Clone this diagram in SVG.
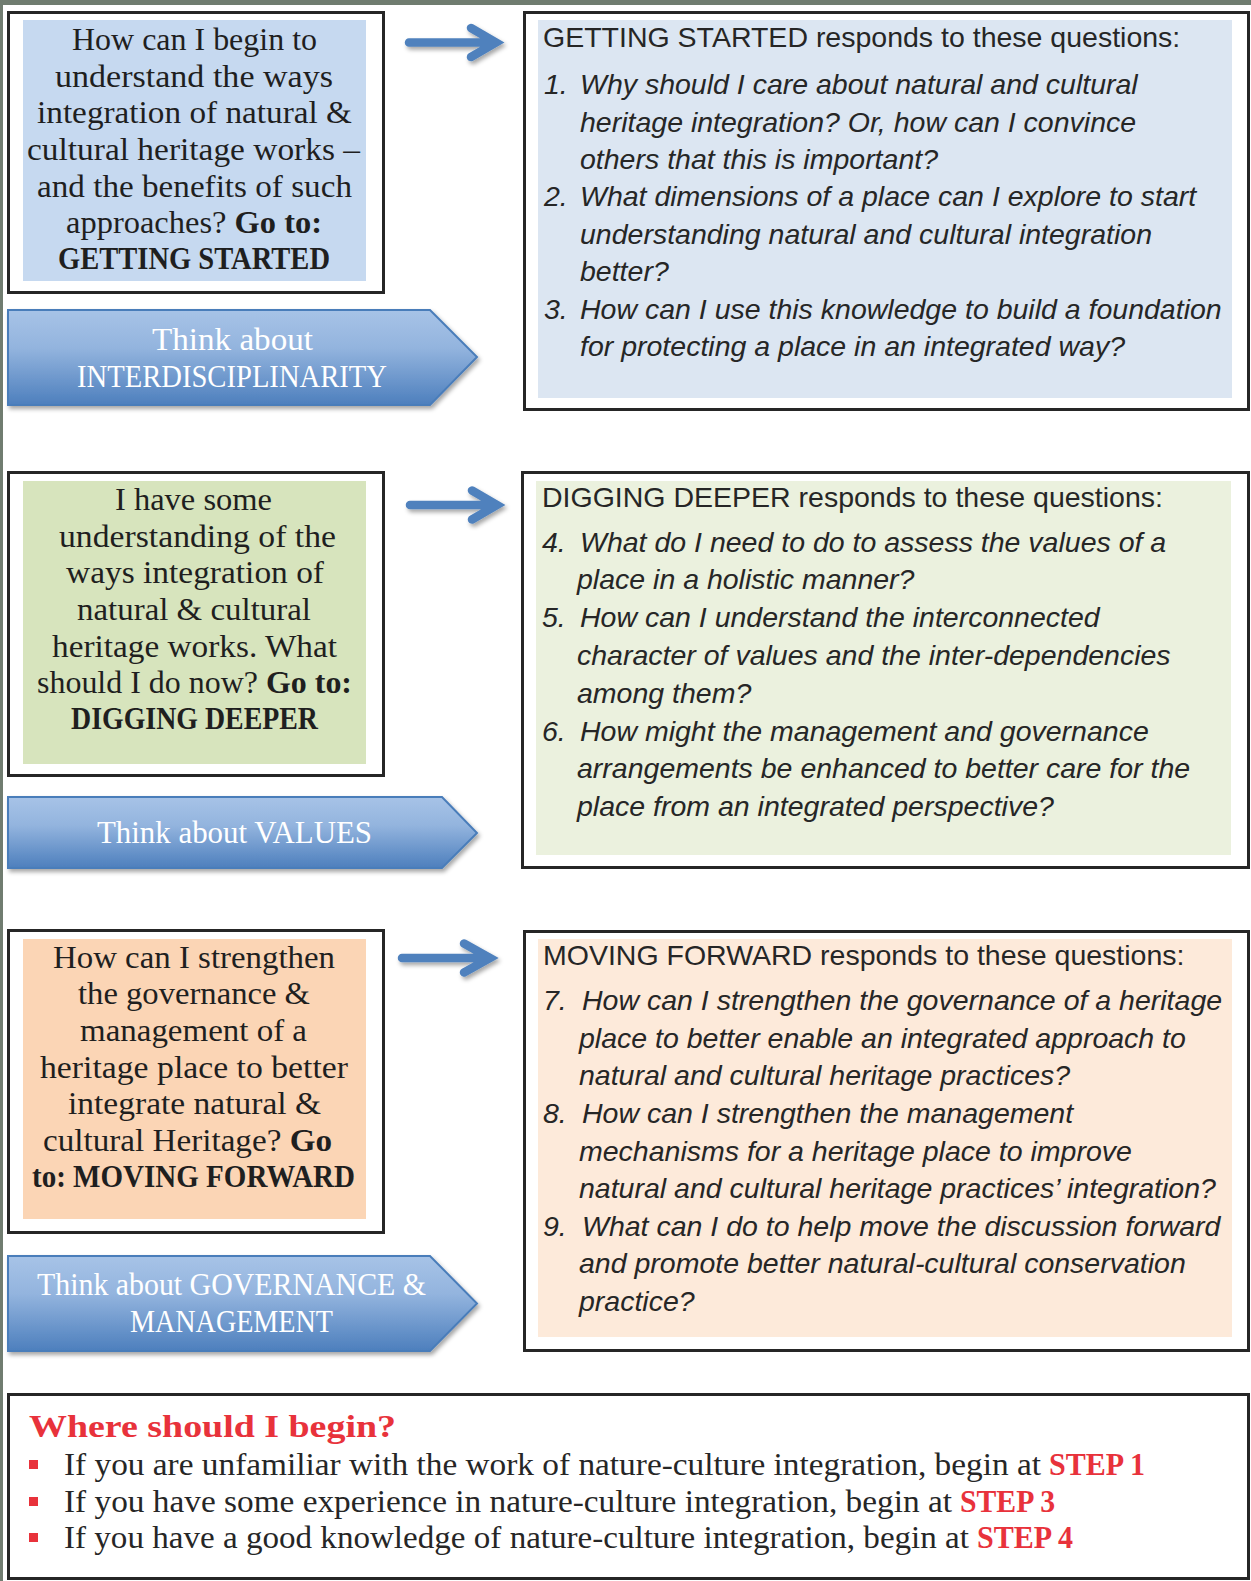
<svg xmlns="http://www.w3.org/2000/svg" width="1251" height="1581" viewBox="0 0 1251 1581">
<defs>
<style>
.frame{fill:#ffffff;stroke:#262626;stroke-width:3}
.q{font-family:"Liberation Serif","Times New Roman",serif;font-size:32px;fill:#1f1f1f}
.b{font-weight:bold}
.ban{font-family:"Liberation Serif","Times New Roman",serif;font-size:31px;fill:#ffffff}
.banshape{fill:url(#bangrad);stroke:#4a7dba;stroke-width:2;filter:url(#shadow)}
.hd{font-family:"Liberation Sans",Arial,sans-serif;font-size:28.5px;fill:#262626}
.it{font-style:italic}
.arr{fill:none;stroke:#4f81bd;stroke-width:8.5;filter:url(#shadow)}
.bt{font-family:"Liberation Serif","Times New Roman",serif;font-size:31px;fill:#262626}
.red{fill:#e8323b}
</style>
<linearGradient id="bangrad" x1="0" y1="0" x2="0" y2="1">
<stop offset="0" stop-color="#a7c3e7"/>
<stop offset="0.4" stop-color="#93b4de"/>
<stop offset="1" stop-color="#4d7fbd"/>
</linearGradient>
<filter id="shadow" x="-10%" y="-20%" width="130%" height="160%">
<feDropShadow dx="2" dy="3" stdDeviation="2" flood-color="#000000" flood-opacity="0.35"/>
</filter>
</defs>
<rect x="0" y="0" width="1251" height="1581" fill="#ffffff"/>
<rect x="0" y="0" width="1251" height="5" fill="#707c70"/>
<rect x="0" y="0" width="3" height="1581" fill="#707c70"/>

<!-- Section 1 -->
<g id="q1">
<rect class="frame" x="8.5" y="12.5" width="375" height="280"/>
<rect x="23" y="20" width="343" height="261" fill="#c6d9f0"/>
<text class="q" x="72" y="50" textLength="245" lengthAdjust="spacingAndGlyphs">How can I begin to</text>
<text class="q" x="55" y="87" textLength="278" lengthAdjust="spacingAndGlyphs">understand the ways</text>
<text class="q" x="37" y="123" textLength="315" lengthAdjust="spacingAndGlyphs">integration of natural &amp;</text>
<text class="q" x="27" y="160" textLength="333" lengthAdjust="spacingAndGlyphs">cultural heritage works –</text>
<text class="q" x="37" y="197" textLength="315" lengthAdjust="spacingAndGlyphs">and the benefits of such</text>
<text class="q" x="66" y="233" textLength="256" lengthAdjust="spacingAndGlyphs">approaches? <tspan class="b">Go to:</tspan></text>
<text class="q b" x="58" y="269" textLength="272" lengthAdjust="spacingAndGlyphs">GETTING STARTED</text>
</g>
<g id="banner1">
<polygon class="banshape" points="8,310 430,310 477,357 430,405 8,405"/>
<text class="ban" x="152" y="350" textLength="161" lengthAdjust="spacingAndGlyphs">Think about</text>
<text class="ban" x="77" y="387" textLength="310" lengthAdjust="spacingAndGlyphs">INTERDISCIPLINARITY</text>
</g>
<g id="a1">
<rect class="frame" x="524.5" y="12.5" width="724" height="397"/>
<rect x="538" y="20" width="694" height="378" fill="#dce6f2"/>
<text class="hd" x="543" y="47">GETTING STARTED responds to these questions:</text>
<g class="hd it">
<text x="544" y="94">1.</text><text x="580" y="94">Why should I care about natural and cultural</text>
<text x="580" y="131.5">heritage integration? Or, how can I convince</text>
<text x="580" y="169">others that this is important?</text>
<text x="544" y="206">2.</text><text x="580" y="206">What dimensions of a place can I explore to start</text>
<text x="580" y="243.5">understanding natural and cultural integration</text>
<text x="580" y="281">better?</text>
<text x="544" y="318.5">3.</text><text x="580" y="318.5">How can I use this knowledge to build a foundation</text>
<text x="580" y="356">for protecting a place in an integrated way?</text>
</g>
</g>

<!-- Section 2 -->
<g id="q2">
<rect class="frame" x="8.5" y="472.5" width="375" height="303"/>
<rect x="23" y="481" width="343" height="283" fill="#d7e4bd"/>
<text class="q" x="115" y="510" textLength="157" lengthAdjust="spacingAndGlyphs">I have some</text>
<text class="q" x="59" y="547" textLength="277" lengthAdjust="spacingAndGlyphs">understanding of the</text>
<text class="q" x="66" y="583" textLength="258" lengthAdjust="spacingAndGlyphs">ways integration of</text>
<text class="q" x="77" y="620" textLength="234" lengthAdjust="spacingAndGlyphs">natural &amp; cultural</text>
<text class="q" x="52" y="657" textLength="285" lengthAdjust="spacingAndGlyphs">heritage works. What</text>
<text class="q" x="37" y="693" textLength="315" lengthAdjust="spacingAndGlyphs">should I do now? <tspan class="b">Go to:</tspan></text>
<text class="q b" x="71" y="729" textLength="247" lengthAdjust="spacingAndGlyphs">DIGGING DEEPER</text>
</g>
<g id="banner2">
<polygon class="banshape" points="8,797 442,797 477,833 442,868 8,868"/>
<text class="ban" x="97" y="843" textLength="275" lengthAdjust="spacingAndGlyphs">Think about VALUES</text>
</g>
<g id="a2">
<rect class="frame" x="522.5" y="472.5" width="726" height="395"/>
<rect x="536" y="481" width="695" height="374" fill="#ebf1de"/>
<text class="hd" x="542" y="507">DIGGING DEEPER responds to these questions:</text>
<g class="hd it">
<text x="542" y="552">4.</text><text x="580" y="552">What do I need to do to assess the values of a</text>
<text x="577" y="589">place in a holistic manner?</text>
<text x="542" y="627">5.</text><text x="580" y="627">How can I understand the interconnected</text>
<text x="577" y="665">character of values and the inter-dependencies</text>
<text x="577" y="703">among them?</text>
<text x="542" y="741">6.</text><text x="580" y="741">How might the management and governance</text>
<text x="577" y="778">arrangements be enhanced to better care for the</text>
<text x="577" y="816">place from an integrated perspective?</text>
</g>
</g>

<!-- Section 3 -->
<g id="q3">
<rect class="frame" x="8.5" y="930.5" width="375" height="302"/>
<rect x="23" y="939" width="343" height="280" fill="#fbd5b5"/>
<text class="q" x="53" y="968" textLength="282" lengthAdjust="spacingAndGlyphs">How can I strengthen</text>
<text class="q" x="78" y="1004" textLength="232" lengthAdjust="spacingAndGlyphs">the governance &amp;</text>
<text class="q" x="80" y="1041" textLength="227" lengthAdjust="spacingAndGlyphs">management of a</text>
<text class="q" x="40" y="1078" textLength="308" lengthAdjust="spacingAndGlyphs">heritage place to better</text>
<text class="q" x="68" y="1114" textLength="253" lengthAdjust="spacingAndGlyphs">integrate natural &amp;</text>
<text class="q" x="43" y="1151" textLength="289" lengthAdjust="spacingAndGlyphs">cultural Heritage?  <tspan class="b">Go</tspan></text>
<text class="q b" x="32" y="1187" textLength="323" lengthAdjust="spacingAndGlyphs">to: MOVING FORWARD</text>
</g>
<g id="banner3">
<polygon class="banshape" points="8,1256 430,1256 477,1303.5 430,1351 8,1351"/>
<text class="ban" x="37" y="1295" textLength="389" lengthAdjust="spacingAndGlyphs">Think about GOVERNANCE &amp;</text>
<text class="ban" x="130" y="1332" textLength="203" lengthAdjust="spacingAndGlyphs">MANAGEMENT</text>
</g>
<g id="a3">
<rect class="frame" x="524.5" y="931.5" width="724" height="419"/>
<rect x="538" y="939" width="694" height="398" fill="#fdeada"/>
<text class="hd" x="543" y="965">MOVING FORWARD responds to these questions:</text>
<g class="hd it">
<text x="543" y="1010">7.</text><text x="582" y="1010">How can I strengthen the governance of a heritage</text>
<text x="579" y="1048">place to better enable an integrated approach to</text>
<text x="579" y="1085">natural and cultural heritage practices?</text>
<text x="543" y="1123">8.</text><text x="582" y="1123">How can I strengthen the management</text>
<text x="579" y="1161">mechanisms for a heritage place to improve</text>
<text x="579" y="1198">natural and cultural heritage practices’ integration?</text>
<text x="543" y="1236">9.</text><text x="582" y="1236">What can I do to help move the discussion forward</text>
<text x="579" y="1273">and promote better natural-cultural conservation</text>
<text x="579" y="1311">practice?</text>
</g>
</g>

<!-- Connectors -->
<g id="connectors">
<path class="arr" d="M409,42.5 H495 M471,28 L496,42.5 L471,57" stroke-linejoin="miter" stroke-linecap="round"/>
<path class="arr" d="M410,505 H495 M472,490.5 L497,505 L472,519.5" stroke-linejoin="miter" stroke-linecap="round"/>
<path class="arr" d="M402,958 H488 M464,943.5 L490,958 L464,972.5" stroke-linejoin="miter" stroke-linecap="round"/>
</g>

<!-- Bottom box -->
<g id="begin">
<rect class="frame" x="8.5" y="1394.5" width="1240" height="184"/>
<text class="bt b red" x="29" y="1437" font-size="36" textLength="367" lengthAdjust="spacingAndGlyphs">Where should I begin?</text>
<rect class="red" x="29" y="1460" width="9" height="9"/>
<rect class="red" x="29" y="1497" width="9" height="9"/>
<rect class="red" x="29" y="1533" width="9" height="9"/>
<text class="bt" x="64" y="1475" textLength="977" lengthAdjust="spacingAndGlyphs">If you are unfamiliar with the work of nature-culture integration, begin at</text>
<text class="bt b red" x="1049" y="1475" textLength="96" lengthAdjust="spacingAndGlyphs">STEP 1</text>
<text class="bt" x="64" y="1512" textLength="888" lengthAdjust="spacingAndGlyphs">If you have some experience in nature-culture integration, begin at</text>
<text class="bt b red" x="960" y="1512" textLength="95" lengthAdjust="spacingAndGlyphs">STEP 3</text>
<text class="bt" x="64" y="1548" textLength="905" lengthAdjust="spacingAndGlyphs">If you have a good knowledge of nature-culture integration, begin at</text>
<text class="bt b red" x="977" y="1548" textLength="96" lengthAdjust="spacingAndGlyphs">STEP 4</text>
</g>
</svg>
